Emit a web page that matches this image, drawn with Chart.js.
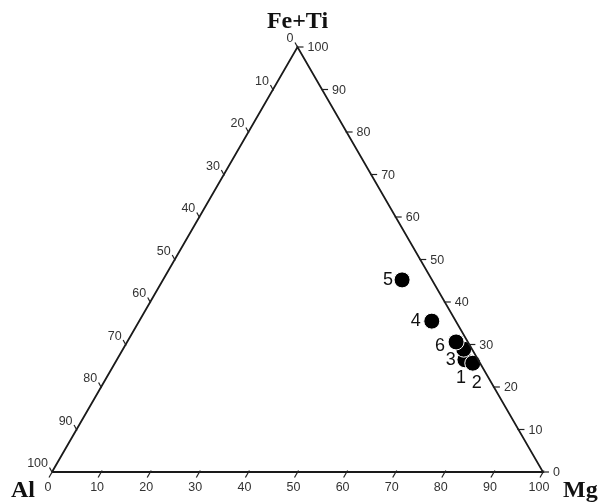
<!DOCTYPE html>
<html>
<head>
<meta charset="utf-8">
<script src="https://cdn.jsdelivr.net/npm/chart.js@4/dist/chart.umd.min.js"></script>
<style>
  body { margin: 0; background: #fff; }
  #wrap { width: 602px; height: 504px; }
</style>
</head>
<body>
<div id="wrap"><canvas id="chartTernary"></canvas></div>
<script>
// sample compositions (%)
var sampleNames = ["1", "2", "3", "4", "5", "6"];
var arrFeTi = [26.4, 25.6, 28.9, 35.5, 45.2, 30.6];
var arrMg   = [70.9, 72.9, 69.4, 59.6, 48.7, 67.0];
var arrAl   = [2.7, 1.5, 1.7, 4.9, 6.1, 2.4];

// tick values along each side
var sideTicks = [0, 10, 20, 30, 40, 50, 60, 70, 80, 90, 100];

// corners of the triangle as [Al, Mg, FeTi]
var cornerAl   = [100, 0, 0];
var cornerMg   = [0, 100, 0];
var cornerFeTi = [0, 0, 100];

var cornerNames = ["Al", "Mg", "Fe+Ti"];

// label offsets in px (dx, dy) for each sample number
var labelOffsets = [[-4, 18], [4, 20], [-13, 11], [-16, 0], [-14, 0], [-16, 4]];

var H = Math.sqrt(3) / 2;

function toXY(al, mg, fe) {
	var s = al + mg + fe;
	mg = mg / s * 100;
	fe = fe / s * 100;
	return { x: mg + fe / 2, y: fe * H };
}

var pointsData = [];
for (var i = 0; i < sampleNames.length; i++) {
	pointsData.push(toXY(arrAl[i], arrMg[i], arrFeTi[i]));
}

var triangleData = [cornerAl, cornerMg, cornerFeTi, cornerAl].map(function (c) {
	return toXY(c[0], c[1], c[2]);
});

var ternaryDecor = {
	id: 'ternaryDecor',
	afterDatasetsDraw: function (chart) {
		var ctx = chart.ctx;
		var sx = chart.scales.x, sy = chart.scales.y;
		function px(p) { return { x: sx.getPixelForValue(p.x), y: sy.getPixelForValue(p.y) }; }

		ctx.save();
		ctx.strokeStyle = '#222';
		ctx.lineWidth = 1.2;
		ctx.fillStyle = '#333';
		ctx.font = '12.5px "Liberation Sans", Arial, sans-serif';
		ctx.textBaseline = 'middle';

		for (var k = 0; k < sideTicks.length; k++) {
			var t = sideTicks[k];
			// bottom side: Mg
			var b = px(toXY(100 - t, t, 0));
			ctx.beginPath();
			ctx.moveTo(b.x + 1, b.y - 1.5);
			ctx.lineTo(b.x - 3, b.y + 5.5);
			ctx.stroke();
			ctx.textAlign = 'center';
			ctx.fillText(String(t), b.x - 4, b.y + 16);

			// right side: Fe+Ti
			var r = px(toXY(0, 100 - t, t));
			ctx.beginPath();
			ctx.moveTo(r.x - 1, r.y);
			ctx.lineTo(r.x + 6, r.y);
			ctx.stroke();
			ctx.textAlign = 'left';
			ctx.fillText(String(t), r.x + 10, r.y + 1);

			// left side: Al
			var l = px(toXY(t, 0, 100 - t));
			ctx.beginPath();
			ctx.moveTo(l.x + 0.5, l.y + 1);
			ctx.lineTo(l.x - 2.5, l.y - 4.5);
			ctx.stroke();
			ctx.textAlign = 'right';
			ctx.fillText(String(t), l.x - 4, l.y - 8);
		}

		// corner titles
		ctx.fillStyle = '#111';
		ctx.font = 'bold 24px "Liberation Serif", "Times New Roman", serif';
		var cAl = px(toXY(cornerAl[0], cornerAl[1], cornerAl[2]));
		var cMg = px(toXY(cornerMg[0], cornerMg[1], cornerMg[2]));
		var cFe = px(toXY(cornerFeTi[0], cornerFeTi[1], cornerFeTi[2]));
		ctx.textAlign = 'center';
		ctx.fillText(cornerNames[2], cFe.x, cFe.y - 25);
		ctx.textAlign = 'left';
		ctx.fillText(cornerNames[0], cAl.x - 41, cAl.y + 19);
		ctx.fillText(cornerNames[1], cMg.x + 20, cMg.y + 19);

		// sample numbers
		ctx.font = '18px "Liberation Sans", Arial, sans-serif';
		ctx.textAlign = 'center';
		ctx.fillStyle = '#111';
		for (var i = 0; i < pointsData.length; i++) {
			var p = px(pointsData[i]);
			ctx.fillText(sampleNames[i], p.x + labelOffsets[i][0], p.y + labelOffsets[i][1]);
		}
		ctx.restore();
	}
};

var chartPlace = document.getElementById('chartTernary').getContext('2d');
var chartTer = new Chart(chartPlace, {
	type: 'scatter',
	data: {
		datasets: [{
			label: 'sides',
			data: triangleData,
			showLine: true,
			borderColor: '#1a1a1a',
			borderWidth: 1.8,
			pointRadius: 0,
			clip: false
		}, {
			label: 'samples',
			data: pointsData,
			backgroundColor: '#000',
			borderColor: '#fff',
			borderWidth: 1,
			pointRadius: 8,
			pointHoverRadius: 8,
			clip: false
		}]
	},
	options: {
		responsive: true,
		maintainAspectRatio: false,
		animation: false,
		layout: { padding: { left: 52, right: 59, top: 47, bottom: 32 } },
		scales: {
			x: { type: 'linear', min: 0, max: 100, display: false },
			y: { type: 'linear', min: 0, max: 100 * H, display: false }
		},
		plugins: {
			legend: { display: false },
			tooltip: { enabled: false }
		}
	},
	plugins: [ternaryDecor]
});
</script>
</body>
</html>
